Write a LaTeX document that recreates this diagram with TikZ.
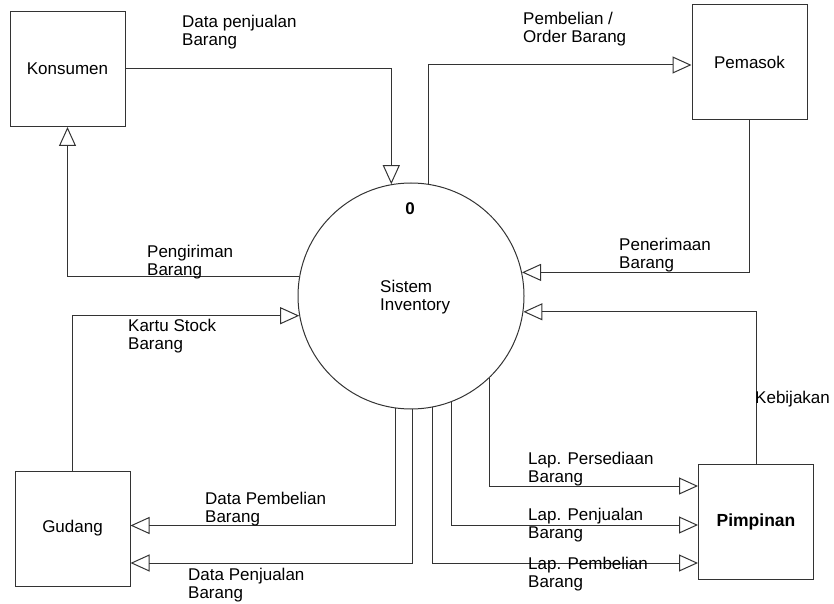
\documentclass[tikz,border=0pt]{standalone}
\usepackage{fontspec}
\setmainfont{Liberation Sans}
\usetikzlibrary{arrows.meta}

\begin{document}
\begin{tikzpicture}[x=1pt,y=1pt,
    every node/.style={font=\fontsize{17}{18}\selectfont},
    entity/.style={draw=black!80,line width=1pt,minimum width=115pt,minimum height=115pt,inner sep=0pt},
    proc/.style={draw=black!80,circle,line width=1pt,minimum size=226pt,inner sep=0pt},
    lbl/.style={anchor=north west,inner sep=0pt,align=left},
    flow/.style={draw=black!80,line width=1pt,-{Triangle[open,length=19pt,width=17pt]}}]
  \useasboundingbox (0,0) rectangle (834,603);

  \node[entity] (kons) at (67.5,534) {Konsumen};
  \node[entity] (pem) at (749.5,541) {Pemasok};
  \node[entity] (gud) at (72.5,74.5) {Gudang};
  \node[entity,font=\fontsize{17.5}{18}\selectfont\bfseries] (pimp) at (756,81) {Pimpinan};
  \node[proc] (sys) at (411,307) {};
  \node[inner sep=0pt,font=\fontsize{17}{18}\selectfont\bfseries] (num) at (410,394) {0};
  \node[lbl] (sysname) at (380,323) {Sistem\\Inventory};

    \draw[flow] (kons.east) -| (sys.100);
    \draw[flow] (sys.170) -| (kons.south);
    \draw[flow] (sys.81) |- ([yshift=-3pt]pem.west);
    \draw[flow] (pem.south) |- (sys.12);

    \draw[flow] (gud.north) |- (sys.190);
    \draw[flow] (sys.-98) |- ([yshift=3pt]gud.east);
    \draw[flow] (sys.-89) |- ([yshift=-34.5pt]gud.east);

    \draw[flow] (pimp.north) |- (sys.-8);
    \draw[flow] (sys.-46) |- ([yshift=36pt]pimp.west);
    \draw[flow] (sys.-69) |- ([yshift=-3pt]pimp.west);
    \draw[flow] (sys.-79) |- ([yshift=-41pt]pimp.west);

  \node[lbl] (lJualKons) at (182,588) {Data penjualan\\Barang};
  \node[lbl] (lKirim) at (147,358) {Pengiriman\\Barang};
  \node[lbl] (lOrder) at (523,591) {Pembelian /\\Order Barang};
  \node[lbl] (lTerima) at (619,365) {Penerimaan\\Barang};
  \node[lbl] (lKartu) at (128,284) {Kartu Stock\\Barang};
  \node[lbl] (lBeliGud) at (205,111) {Data Pembelian\\Barang};
  \node[lbl] (lJualGud) at (188,35) {Data Penjualan\\Barang};
  \node[lbl] (lBijak) at (755,212) {Kebijakan};
  \node[lbl] (lSedia) at (528,151) {Lap. Persediaan\\Barang};
  \node[lbl] (lLapJual) at (528,95) {Lap. Penjualan\\Barang};
  \node[lbl] (lLapBeli) at (528,46) {Lap. Pembelian\\Barang};
\end{tikzpicture}
\end{document}
